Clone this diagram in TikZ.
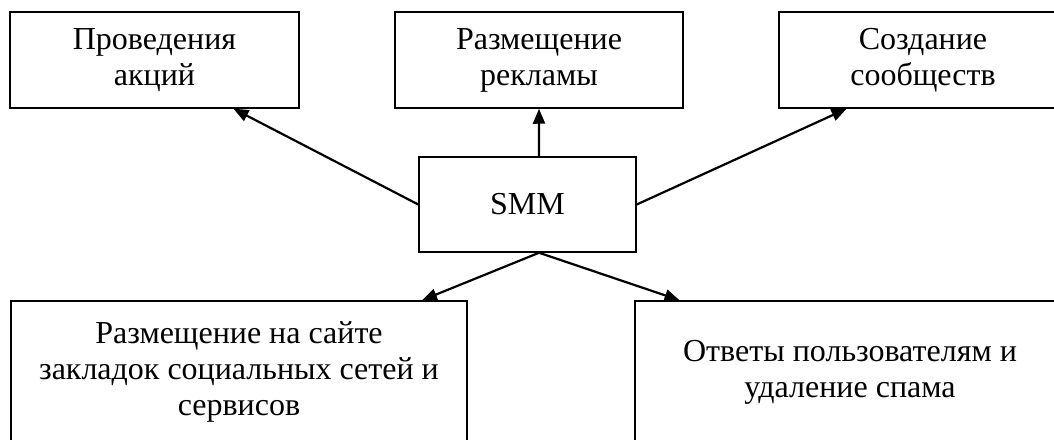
\documentclass[tikz,border=0pt]{standalone}
\usepackage{fontspec}
\setmainfont{Liberation Serif}
\usetikzlibrary{arrows.meta,calc}
\begin{document}
\begin{tikzpicture}[x=1pt,y=1pt,
  box/.style={draw,line width=1.5pt,inner sep=0pt,align=center,
    font=\fontsize{32}{36}\selectfont},
  arr/.style={line width=2.2pt,-{Triangle[length=15pt,width=12pt]}}]
\useasboundingbox (0,0) rectangle (1054,439);
\clip (0,0) rectangle (1054,439);
\node[box,minimum width=289pt,minimum height=96pt] (A) at (154.5,379) {Проведения\\акций};
\node[box,minimum width=288pt,minimum height=96pt] (B) at (539,379) {Размещение\\рекламы};
\node[box,minimum width=288pt,minimum height=96pt] (C) at (923,379) {Создание\\сообществ};
\node[box,minimum width=217pt,minimum height=95pt] (S) at (527.5,234.5) {SMM};
\node[box,minimum width=456pt,minimum height=142pt] (D) at (239,67) {Размещение на сайте\\закладок социальных сетей и\\сервисов};
\node[box,minimum width=430pt,minimum height=142pt] (E) at (850,67) {Ответы пользователям и\\удаление спама};
\draw[arr] (S.west) -- ($(A.south west)!0.772!(A.south east)$);
\draw[arr] ($(S.north west)!0.553!(S.north east)$) -- (B.south);
\draw[arr] (S.east) -- ($(C.south west)!0.236!(C.south east)$);
\draw[arr] ($(S.south west)!0.553!(S.south east)$) -- ($(D.north west)!0.90!(D.north east)$);
\draw[arr] ($(S.south west)!0.553!(S.south east)$) -- ($(E.north west)!0.105!(E.north east)$);
\end{tikzpicture}
\end{document}
